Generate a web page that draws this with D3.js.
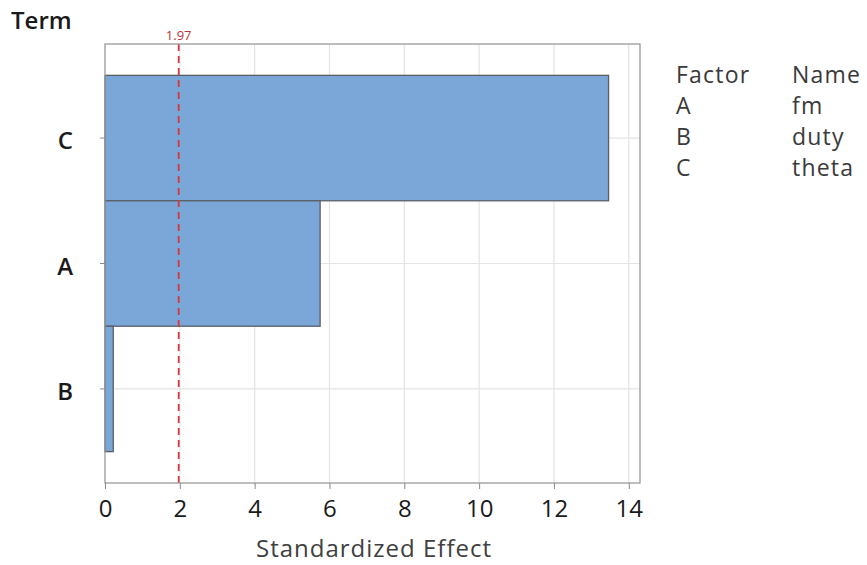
<!DOCTYPE html>
<html>
<head>
<meta charset="utf-8">
<script src="https://cdn.jsdelivr.net/npm/d3@7"></script>
<style>
  html, body { margin: 0; padding: 0; background: #fff; }
  svg text { font-family: "Open Sans", "Noto Sans", sans-serif; }
</style>
</head>
<body>
<svg id="chart" width="867" height="565"></svg>
<script>
// Pareto chart of standardized effects
const terms = ["C", "A", "B"];
const effects = [13.46, 5.75, 0.22];
const xTicks = [0, 2, 4, 6, 8, 10, 12, 14];
const criticalValue = 1.97;
const legendFactors = ["A", "B", "C"];
const legendNames = ["fm", "duty", "theta"];

const svg = d3.select("#chart");
const plotLeft = 105, plotRight = 640, plotTop = 44, plotBottom = 483;

const x = d3.scaleLinear().domain([0, 14.3]).range([plotLeft, plotRight]);
const y = d3.scaleBand().domain(terms).range([plotTop, plotBottom]).paddingInner(0).paddingOuter(0.25);

// gridlines
svg.append("g").selectAll("line").data(xTicks.slice(1)).join("line")
  .attr("x1", d => x(d)).attr("x2", d => x(d))
  .attr("y1", plotTop).attr("y2", plotBottom)
  .attr("stroke", "#e4e4e4").attr("stroke-width", 1.2);
svg.append("g").selectAll("line").data(terms).join("line")
  .attr("x1", plotLeft).attr("x2", plotRight)
  .attr("y1", d => y(d) + y.bandwidth() / 2).attr("y2", d => y(d) + y.bandwidth() / 2)
  .attr("stroke", "#e4e4e4").attr("stroke-width", 1.2);

// bars
svg.append("g").selectAll("rect").data(terms).join("rect")
  .attr("x", x(0))
  .attr("y", d => y(d))
  .attr("width", (d, i) => x(effects[i]) - x(0))
  .attr("height", y.bandwidth())
  .attr("fill", "#7ba6d8")
  .attr("stroke", "#5a5f66")
  .attr("stroke-width", 1.3);

// critical value reference line
svg.append("line")
  .attr("x1", x(criticalValue)).attr("x2", x(criticalValue))
  .attr("y1", plotTop).attr("y2", plotBottom)
  .attr("stroke", "#d9363e").attr("stroke-width", 1.8)
  .attr("stroke-dasharray", "7,5");
svg.append("text")
  .attr("x", x(criticalValue)).attr("y", 40)
  .attr("text-anchor", "middle")
  .attr("font-size", 13).attr("font-weight", 500).attr("fill", "#b8323a")
  .text(criticalValue.toFixed(2));

// frame
svg.append("rect")
  .attr("x", plotLeft).attr("y", plotTop)
  .attr("width", plotRight - plotLeft).attr("height", plotBottom - plotTop)
  .attr("fill", "none").attr("stroke", "#9a9a9a").attr("stroke-width", 1.3);

// x axis
const xAxis = svg.append("g").attr("transform", `translate(0,${plotBottom})`)
  .call(d3.axisBottom(x).tickValues(xTicks).tickSize(6).tickPadding(11).tickFormat(d3.format("d")));
xAxis.select(".domain").remove();
xAxis.selectAll("line").attr("stroke", "#8a8a8a");
xAxis.selectAll("text").attr("font-size", 24).attr("font-weight", 500).attr("fill", "#1a1a1a");

// y axis
const yAxis = svg.append("g").attr("transform", `translate(${plotLeft},0)`)
  .call(d3.axisLeft(y).tickSize(5).tickPadding(27));
yAxis.select(".domain").remove();
yAxis.selectAll("line").attr("stroke", "#8a8a8a");
yAxis.selectAll("text").attr("font-size", 24).attr("font-weight", 600)
  .attr("dy", "0.47em").attr("fill", "#1a1a1a");

// axis titles
svg.append("text").attr("x", 11).attr("y", 29)
  .attr("font-size", 24).attr("font-weight", 600).attr("fill", "#1a1a1a").text("Term");
svg.append("text").attr("x", 374).attr("y", 557)
  .attr("text-anchor", "middle").attr("font-size", 24).attr("letter-spacing", 1)
  .attr("fill", "#404040")
  .text("Standardized Effect");

// factor legend
const lg = svg.append("g").attr("font-size", 23).attr("letter-spacing", 1.2).attr("fill", "#3a3a3a");
lg.append("text").attr("x", 676).attr("y", 83).text("Factor");
lg.append("text").attr("x", 792).attr("y", 83).text("Name");
legendFactors.forEach((f, i) => {
  lg.append("text").attr("x", 676).attr("y", 114 + i * 31).text(f);
  lg.append("text").attr("x", 792).attr("y", 114 + i * 31).text(legendNames[i]);
});
</script>
</body>
</html>
